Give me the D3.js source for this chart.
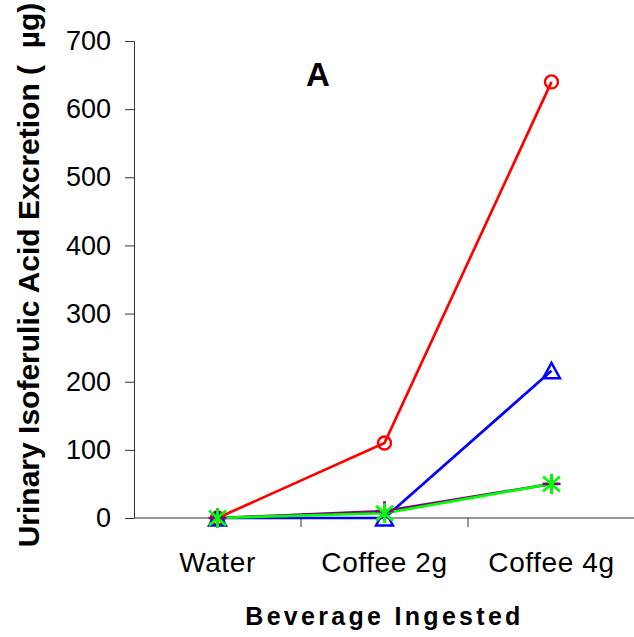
<!DOCTYPE html>
<html>
<head>
<meta charset="utf-8">
<script src="https://cdn.jsdelivr.net/npm/d3@7"></script>
<style>
  body { margin: 0; background: #fff; }
  svg { display: block; font-family: Arial, "Liberation Sans", sans-serif; }
</style>
</head>
<body>
<div id="chart"></div>
<script>
// --- data
const categories = ['Water', 'Coffee 2g', 'Coffee 4g'];
const yTicks = [0, 100, 200, 300, 400, 500, 600, 700];
const redValues = [0, 110, 640];
const blueValues = [0, 0, 216];
const purpleValues = [0, 10, 50];
const greenValues = [0, 7, 50];

const series = [
    { name: 'red', color: '#ff0000', marker: 'circle', values: redValues },
    { name: 'blue', color: '#0000ff', marker: 'triangle', values: blueValues },
    { name: 'purple', color: '#800080', marker: 'plus', values: purpleValues },
    { name: 'green', color: '#00ff00', marker: 'asterisk', values: greenValues }
];

const width = 634, height = 637;
const plot = { left: 134, right: 635, top: 41, bottom: 518 };

const svg = d3.select('#chart').append('svg')
    .attr('width', width).attr('height', height);

const x = d3.scaleBand().domain(categories).range([plot.left, plot.right]).paddingInner(0).paddingOuter(0);
const y = d3.scaleLinear().domain([0, 700]).range([plot.bottom, plot.top]);
const cx = c => x(c) + x.bandwidth() / 2;

// --- y axis
const gy = svg.append('g').attr('transform', `translate(${plot.left},0)`)
    .call(d3.axisLeft(y).tickValues(yTicks).tickSize(9).tickPadding(14).tickSizeOuter(0));
gy.select('.domain').attr('stroke', '#333');
gy.selectAll('.tick line').attr('stroke', '#333');
gy.selectAll('.tick text').attr('font-size', 27).attr('fill', '#000')
    .attr('font-family', 'Arial, "Liberation Sans", sans-serif');

// --- x axis: line, ticks at category boundaries, centred labels
const gx = svg.append('g');
gx.append('line')
    .attr('x1', plot.left).attr('x2', plot.right)
    .attr('y1', y(0)).attr('y2', y(0))
    .attr('stroke', '#333');
gx.selectAll('line.tick').data(categories.slice(1)).enter().append('line')
    .attr('class', 'tick')
    .attr('x1', d => x(d)).attr('x2', d => x(d))
    .attr('y1', y(0)).attr('y2', y(0) + 9)
    .attr('stroke', '#333');
gx.selectAll('text').data(categories).enter().append('text')
    .attr('x', d => cx(d)).attr('y', 572)
    .attr('text-anchor', 'middle').attr('font-size', 28)
    .attr('letter-spacing', 0.6)
    .text(d => d);

// --- lines
const line = d3.line().x((d, i) => cx(categories[i])).y(d => y(d));
series.forEach(s => {
    svg.append('path')
        .datum(s.values)
        .attr('d', line)
        .attr('fill', 'none')
        .attr('stroke', s.color)
        .attr('stroke-width', 2.7);
});

// --- markers
function drawMarker(g, type, color) {
    if (type === 'circle') {
        g.append('circle').attr('r', 6.5).attr('fill', 'none').attr('stroke', color).attr('stroke-width', 2.4);
    } else if (type === 'triangle') {
        g.append('path').attr('d', 'M0,-8L8.5,7.5L-8.5,7.5Z').attr('fill', 'none')
            .attr('stroke', color).attr('stroke-width', 2.4);
    } else if (type === 'plus') {
        g.append('path').attr('d', 'M-9,0H9M0,-10V10').attr('stroke', color).attr('stroke-width', 2.7);
    } else if (type === 'asterisk') {
        g.append('path').attr('d', 'M0,-10V10M-8.5,-7.5L8.5,7.5M-8.5,7.5L8.5,-7.5').attr('stroke', color).attr('stroke-width', 2.8);
    }
}
series.forEach(s => {
    s.values.forEach((v, i) => {
        const g = svg.append('g').attr('transform', `translate(${cx(categories[i])},${y(v)})`);
        drawMarker(g, s.marker, s.color);
    });
});

// --- titles
svg.append('text')
    .attr('transform', `translate(39,${275}) rotate(-90)`)
    .attr('text-anchor', 'middle')
    .attr('font-size', 30).attr('font-weight', 'bold')
    .attr('xml:space', 'preserve')
    .text('Urinary Isoferulic Acid Excretion (  µg)');

svg.append('text')
    .attr('x', (plot.left + plot.right) / 2).attr('y', 625)
    .attr('text-anchor', 'middle')
    .attr('font-size', 25).attr('font-weight', 'bold')
    .attr('letter-spacing', 3.3)
    .text('Beverage Ingested');

svg.append('text')
    .attr('x', 318).attr('y', 86)
    .attr('text-anchor', 'middle')
    .attr('font-size', 33).attr('font-weight', 'bold')
    .text('A');
</script>
</body>
</html>
